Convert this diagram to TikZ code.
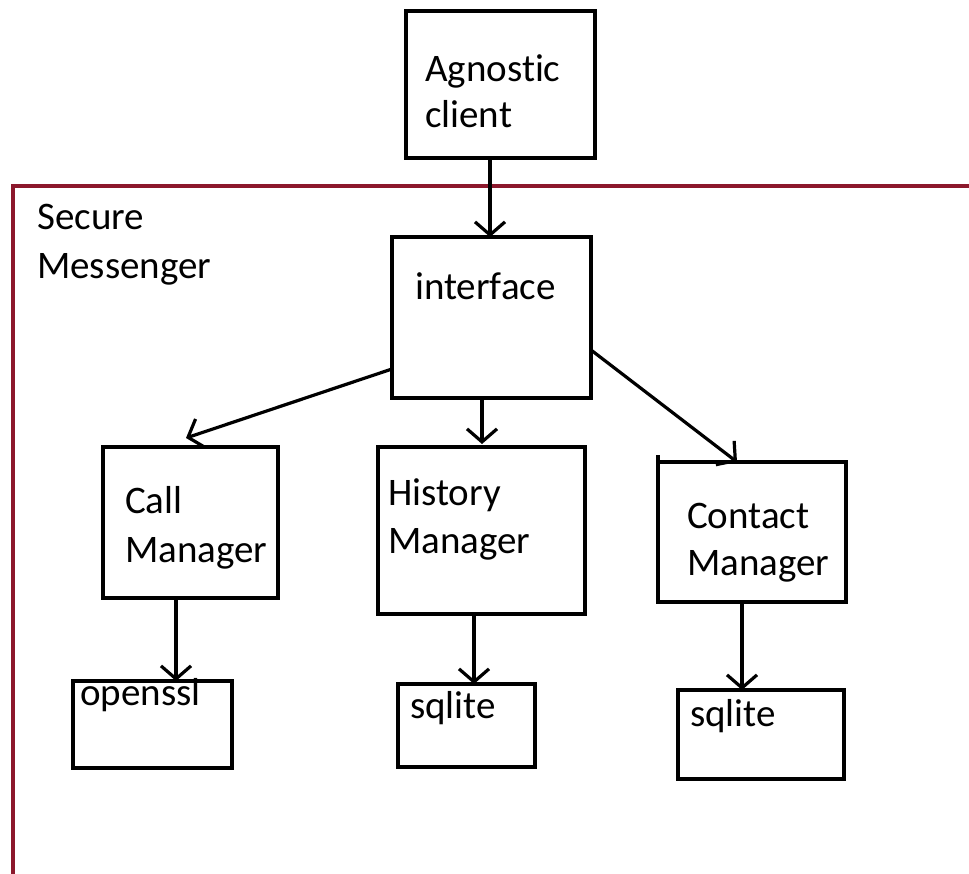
\documentclass[tikz,border=0pt]{standalone}
\usepackage{fontspec}
\setmainfont[Ligatures=NoCommon]{Carlito}
\usetikzlibrary{arrows.meta}
\definecolor{frame}{RGB}{140,24,44}
\begin{document}
\begin{tikzpicture}[x=1pt,y=-1pt,
  box/.style={draw=black,line width=3.6pt,inner sep=0pt,outer sep=0pt},
  lbl/.style={font=\fontsize{39}{47}\selectfont,inner sep=0pt,anchor=base west},
  arr/.style={line width=3.2pt,-{Straight Barb[length=13pt,width=30pt,line width=3.2pt]}}]
\useasboundingbox (0,0) rectangle (969,874);
\fill[white] (0,0) rectangle (969,874);
% frame
\coordinate (fr) at (969,186);
\coordinate (fc) at (13,186);
\coordinate (fb) at (13,874);
\draw[frame,line width=3.4pt] (fr) -- (fc) -- (fb);
\node[lbl] (sm1) at (37,230) {Secure};
\node[lbl] (sm2) at (37,279) {Messenger};
% boxes
\node[box,minimum width=189pt,minimum height=147pt] (agn) at (500.5,84.5) {};
\node[lbl] (agn1) at (425,82) {Agnostic};
\node[lbl] (agn2) at (425,128) {client};
\node[box,minimum width=199pt,minimum height=161pt] (intf) at (491.5,317.5) {};
\node[lbl] (intfT) at (415,300) {interface};
\node[box,minimum width=175pt,minimum height=151pt] (call) at (190.5,522.5) {};
\node[lbl] (call1) at (125,513) {Call};
\node[lbl] (call2) at (125,562) {Manager};
\node[box,minimum width=207pt,minimum height=167pt] (hist) at (481.5,530.5) {};
\node[lbl] (hist1) at (388,505) {History};
\node[lbl] (hist2) at (388,553) {Manager};
\node[box,minimum width=188pt,minimum height=140pt] (cont) at (752,532) {};
\node[lbl] (cont1) at (687,528) {Contact};
\node[lbl] (cont2) at (687,575) {Manager};
\coordinate (tick) at (658,455);
\draw[line width=3.6pt] (tick) -- (cont.north west);
\node[box,minimum width=159pt,minimum height=87pt] (ossl) at (152.5,724.5) {};
\node[lbl] (osslT) at (80,705) {openssl};
\node[box,minimum width=137pt,minimum height=83pt] (sq1) at (466.5,725.5) {};
\node[lbl] (sq1T) at (410,718) {sqlite};
\node[box,minimum width=166pt,minimum height=89pt] (sq2) at (761,734.5) {};
\node[lbl] (sq2T) at (690,726) {sqlite};
% arrows
\draw[arr] ([xshift=-10.5pt]agn.south) -- ([xshift=-1.5pt]intf.north);
\draw[arr] ([yshift=-51.5pt]intf.west) -- ([xshift=-4.5pt,yshift=9pt]call.north);
\draw[arr] ([xshift=-9.5pt]intf.south) -- ([xshift=0.5pt,yshift=3pt]hist.north);
\draw[arr] ([yshift=-32.5pt]intf.east) -- ([xshift=-15pt]cont.north);
\draw[arr] ([xshift=-14.5pt]call.south) -- ([xshift=23.5pt]ossl.north);
\draw[arr] ([xshift=-7.5pt]hist.south) -- ([xshift=7.5pt]sq1.north);
\draw[arr] ([xshift=-10pt]cont.south) -- ([xshift=-19pt]sq2.north);
\end{tikzpicture}
\end{document}
